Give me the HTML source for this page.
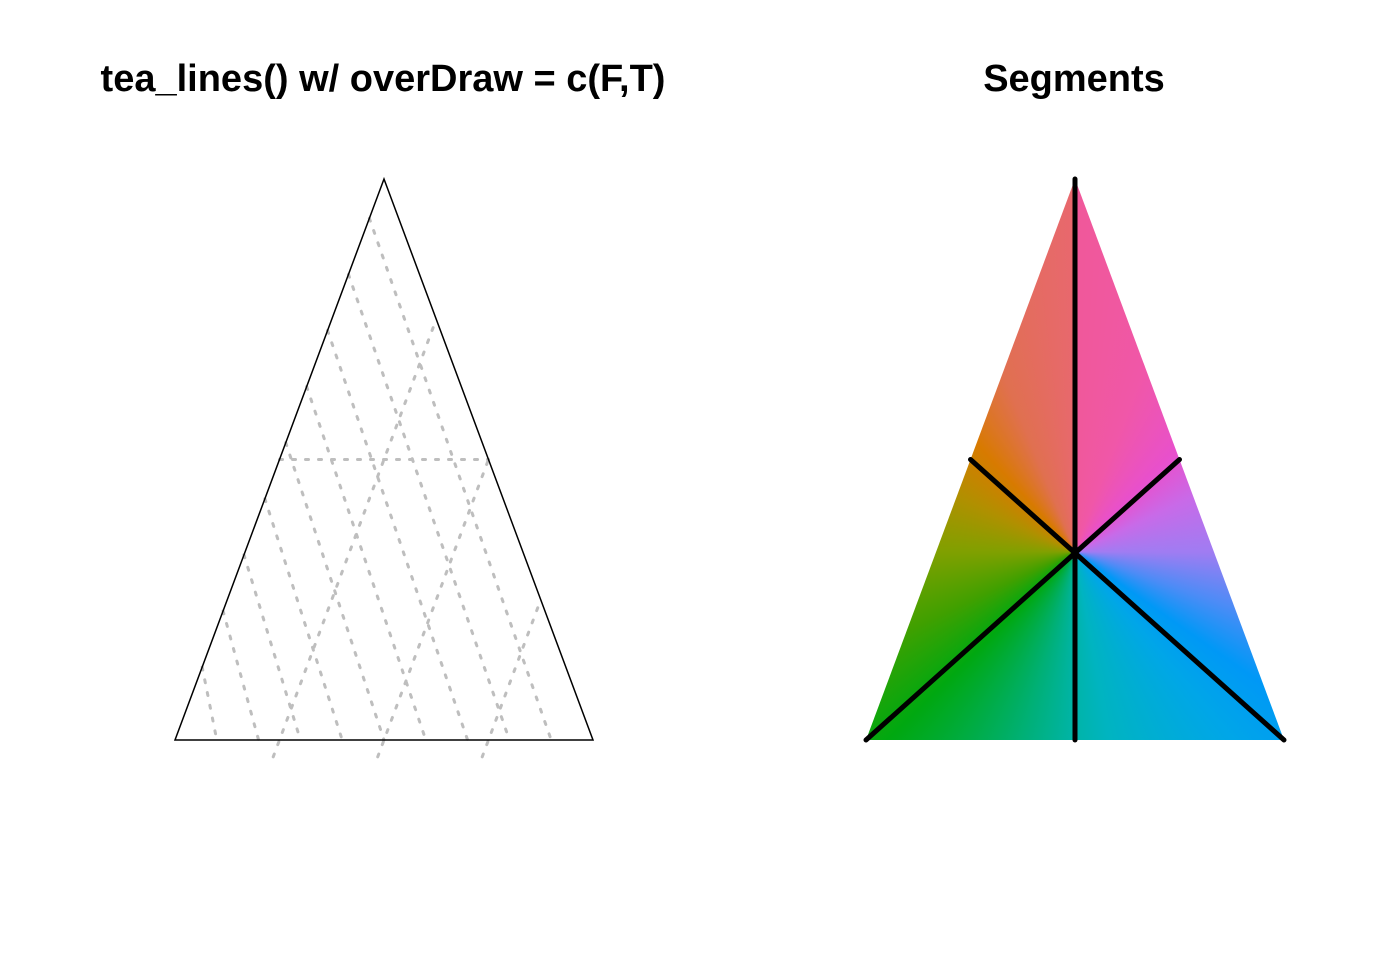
<!DOCTYPE html>
<html><head><meta charset="utf-8"><style>
body{margin:0;background:#fff;width:1382px;height:960px;overflow:hidden;position:relative;font-family:"Liberation Sans",sans-serif}
.t{position:absolute;font-weight:bold;font-size:38px;top:58px;white-space:nowrap;transform:translateX(-50%)}
#grad{position:absolute;left:866px;top:179px;width:418px;height:561px;clip-path:polygon(50% 0,100% 100%,0 100%);
background:conic-gradient(from 0deg at 209px 373px,#f0589a 0deg,#f057a8 20deg,#e850cc 45deg,#c86ae8 65deg,#a07cf2 90deg,#4a8cf6 110deg,#0098f6 125deg,#00a6e8 140deg,#00b4c0 170deg,#00b4a8 180deg,#00b078 195deg,#00a810 225deg,#40a000 245deg,#80a000 270deg,#b09000 295deg,#d87a00 318deg,#e07050 338deg,#e8686e 360deg)}
</style></head><body>
<div class="t" style="left:383px">tea_lines() w/ overDraw = c(F,T)</div>
<div class="t" style="left:1074px">Segments</div>
<div id="grad"></div>
<svg id="s" width="1382" height="960" style="position:absolute;left:0;top:0"></svg>
<script>
const familyA=[0.1,0.2,0.3,0.4,0.5,0.6,0.7,0.8,0.9];
const familyB=[0.25,0.5,0.75];
const horiz=[0.5];
const NS="http://www.w3.org/2000/svg",s=document.getElementById('s');
const L={ax:384,ay:179,bx:175,cx:593,by:740};
function ln(x1,y1,x2,y2,st,w,extra){const e=document.createElementNS(NS,'line');
e.setAttribute('x1',x1);e.setAttribute('y1',y1);e.setAttribute('x2',x2);e.setAttribute('y2',y2);
e.setAttribute('stroke',st);e.setAttribute('stroke-width',w);if(extra)e.setAttribute('stroke-dasharray',extra);
e.setAttribute('stroke-linecap','round');s.appendChild(e);return e;}
const H=L.by-L.ay,hw=(L.cx-L.bx)/2,over=0.03;
familyA.forEach(t=>{const x1=L.ax-hw*(t-over),y1=L.ay+H*(t-over);const x2=L.cx-2*hw*t,y2=L.by;
const e=ln(x1,y1,x2,y2,'#bebebe',3,'3,10');

});
familyB.forEach(t=>{const bx=L.bx+2*hw*t;const x1=bx-hw*over,y1=L.by+H*over;
const x2=bx+hw*(1-t),y2=L.by-H*(1-t);
const e=ln(x1,y1,x2,y2,'#bebebe',3,'3,10');

});
horiz.forEach(t=>{const y=L.ay+H*t;const e=ln(L.ax-hw*t,y,L.ax+hw*t,y,'#bebebe',3,'3,10');

});
const tri=document.createElementNS(NS,'polygon');
tri.setAttribute('points',`${L.ax},${L.ay} ${L.cx},${L.by} ${L.bx},${L.by}`);
tri.setAttribute('fill','none');tri.setAttribute('stroke','#000');tri.setAttribute('stroke-width','1.5');


s.appendChild(tri);
const R={ax:1075,ay:179,bx:866,cx:1284,by:740};
const cx=(R.ax+R.bx+R.cx)/3,cy=(R.ay+2*R.by)/3;
const segEnds=[[R.ax,R.ay],[R.ax,R.by],[R.bx,R.by],[R.cx,R.by],[(R.ax+R.bx)/2,(R.ay+R.by)/2],[(R.ax+R.cx)/2,(R.ay+R.by)/2]];
segEnds.forEach(p=>{const e=ln(cx,cy,p[0],p[1],'#000',5);

});
</script>
</body></html>
